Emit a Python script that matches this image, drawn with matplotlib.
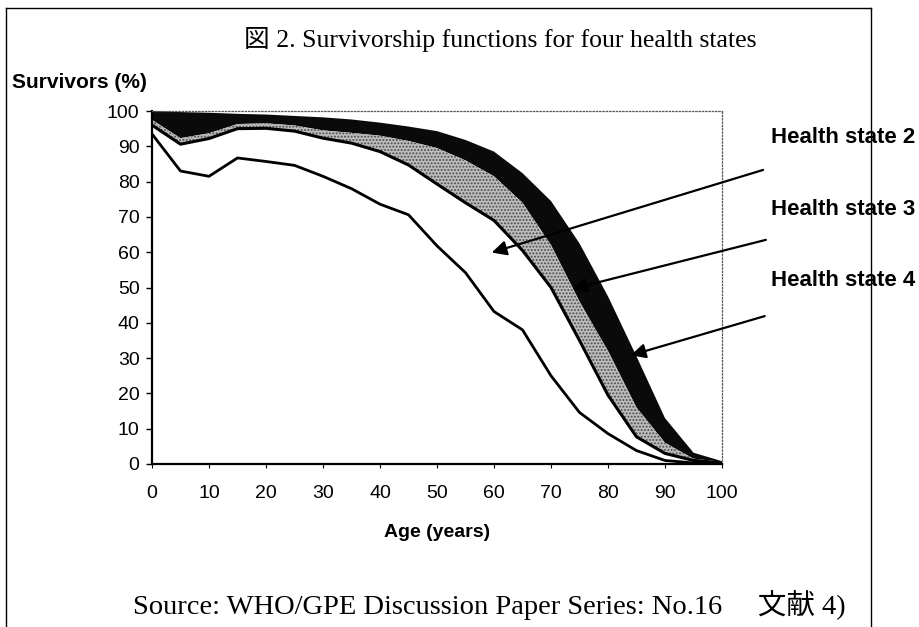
import matplotlib
matplotlib.use('Agg')
import matplotlib.pyplot as plt
from matplotlib.lines import Line2D

plt.rcParams['font.family'] = ['Liberation Sans', 'DejaVu Sans']
plt.rcParams['hatch.linewidth'] = 0.9

# survivorship (%) by age
ages = [0, 5, 10, 15, 20, 25, 30, 35, 40, 45, 50, 55, 60, 65, 70, 75, 80, 85, 90, 95, 100]
state1 = [93.5, 83.0, 81.5, 86.7, 85.7, 84.6, 81.5, 78.0, 73.6, 70.6, 61.8, 54.2, 43.2, 38.0, 25.0, 14.6, 8.6, 3.8, 1.0, 0.3, 0.0]
state2 = [96.0, 90.6, 92.2, 95.0, 95.1, 94.3, 92.3, 90.9, 88.5, 84.7, 79.3, 74.0, 69.0, 60.5, 50.0, 35.0, 19.5, 7.7, 3.0, 1.0, 0.3]
state3 = [97.5, 92.3, 93.7, 96.3, 96.5, 95.9, 94.5, 93.8, 93.0, 91.5, 89.5, 86.0, 81.5, 74.0, 62.0, 46.0, 32.0, 16.0, 6.0, 1.5, 0.6]
state4 = [100.0, 99.7, 99.5, 99.2, 99.0, 98.6, 98.2, 97.6, 96.7, 95.6, 94.3, 91.8, 88.5, 82.4, 74.5, 62.5, 47.5, 30.5, 13.0, 3.2, 0.8]

labels = ['Health state 2', 'Health state 3', 'Health state 4']
label_y = [92.4, 72.1, 52.0]
arrow_tips = [(59.6, 59.9), (73.7, 49.6), (84.0, 30.8)]
arrow_tails = [(107.2, 83.3), (107.7, 63.5), (107.5, 41.9)]

W, H = 920, 627
fig = plt.figure(figsize=(W / 100, H / 100), dpi=100)
ax = fig.add_axes([152 / W, 1 - 464 / H, 570 / W, 353 / H])

ax.fill_between(ages, state3, state4, facecolor='#0a0a0a', edgecolor='none', zorder=1)
ax.fill_between(ages, state2, state3, facecolor='#bcbcbc', edgecolor='#4a4a4a',
                hatch='.....', linewidth=0, zorder=1)
ax.plot(ages, state2, color='black', lw=2.2, zorder=3)
ax.plot(ages, state1, color='black', lw=2.0, zorder=3)

ax.set_xlim(0, 100)
ax.set_ylim(0, 100)
ax.set_xticks(range(0, 101, 10))
ax.set_yticks(range(0, 101, 10))
ax.tick_params(axis='y', direction='out', length=4, width=1, pad=5, labelsize=14)
ax.tick_params(axis='x', direction='out', length=3, width=0.8, pad=12, labelsize=14)
ax.set_xlabel('Age (years)', fontsize=14, fontweight='bold', labelpad=16)

ax.spines['left'].set_linewidth(1.6)
ax.spines['bottom'].set_linewidth(1.6)
for side in ['top', 'right']:
    ax.spines[side].set_linestyle(':')
    ax.spines[side].set_linewidth(0.9)
    ax.spines[side].set_color('#555555')

for lab, ly, tip, tail in zip(labels, label_y, arrow_tips, arrow_tails):
    ax.annotate('', xy=tip, xytext=tail, annotation_clip=False,
                arrowprops=dict(arrowstyle='-|>', color='black', lw=1.6, mutation_scale=22,
                                shrinkA=0, shrinkB=0))
    ax.text(108.6, ly, lab, fontsize=16, fontweight='bold', va='center', ha='left', clip_on=False)

fig.text(12 / W, 1 - 82 / H, 'Survivors (%)', fontsize=15, fontweight='bold', va='center')
fig.text(500 / W, 1 - 40 / H, '図 2. Survivorship functions for four health states',
         family=['Liberation Serif', 'Noto Sans CJK JP'], fontsize=18.5, ha='center', va='center')
fig.text(133 / W, 1 - 605 / H, 'Source: WHO/GPE Discussion Paper Series: No.16     文献 4)',
         family=['Liberation Serif', 'Noto Sans CJK JP'], fontsize=20.5, ha='left', va='center')

# outer frame of the scanned figure
for xs, ys in [([6, 6], [8, H + 5]), ([6, 871], [8, 8]), ([871, 871], [8, H + 5])]:
    fig.add_artist(Line2D([x / W for x in xs], [1 - y / H for y in ys], color='black', lw=1.0,
                          transform=fig.transFigure))

fig.savefig('out.png', dpi=100)
